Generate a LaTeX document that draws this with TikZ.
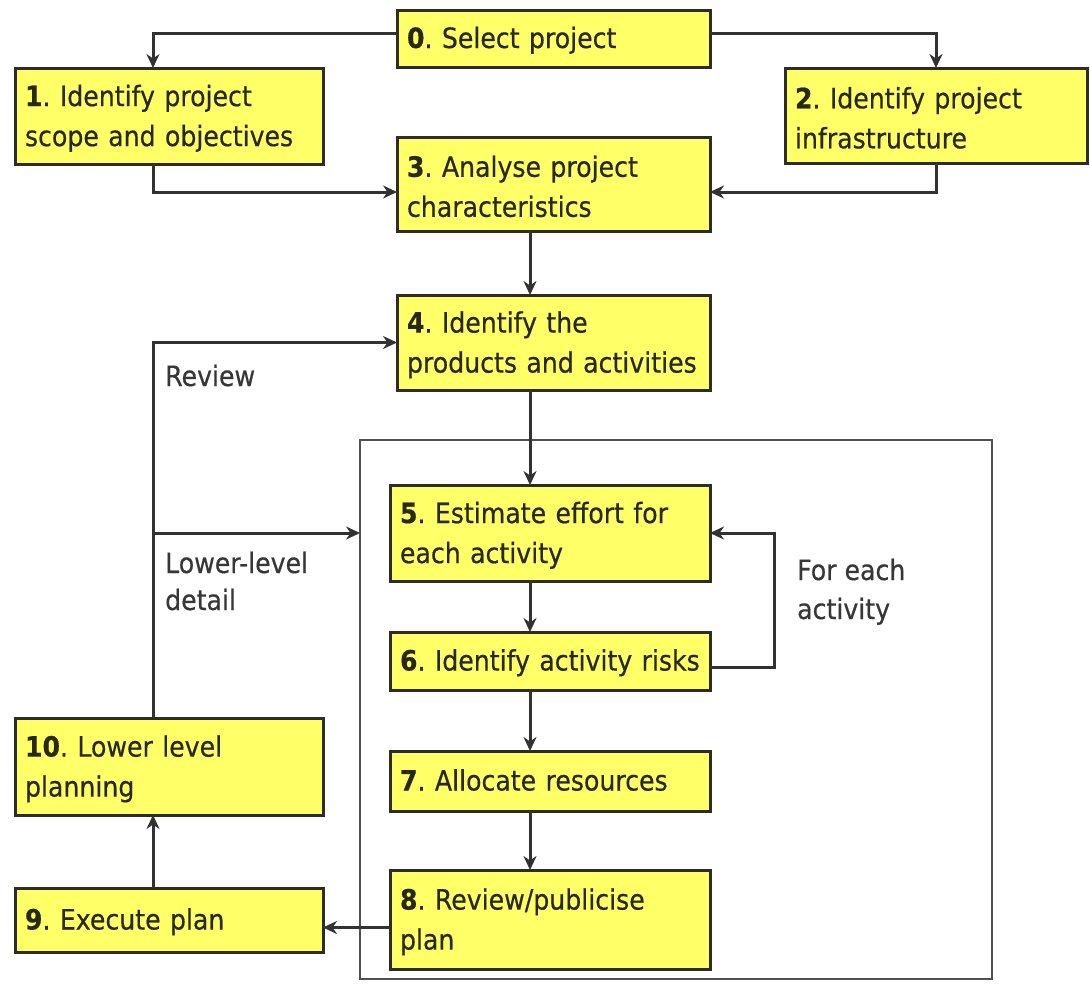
\documentclass[tikz,border=0pt]{standalone}
\usepackage{fontspec}
\setmainfont{DejaVu Sans}[FakeStretch=0.9, FakeBold=0.5]
\usetikzlibrary{arrows.meta}
\definecolor{boxfill}{RGB}{255,255,104}
\definecolor{edgec}{RGB}{45,45,38}
\definecolor{wirec}{RGB}{50,50,50}
\definecolor{framec}{RGB}{80,80,80}
\definecolor{lblc}{RGB}{55,55,55}
\definecolor{txtc}{RGB}{40,40,20}
\begin{document}
\frenchspacing
\begin{tikzpicture}[x=1pt,y=-1pt,
  stepbox/.style={draw=edgec, line width=3pt, fill=boxfill, anchor=north west,
    inner xsep=10pt, inner ysep=0pt, outer sep=0pt, align=left,
    font=\fontsize{28}{40}\selectfont\frenchspacing, text=txtc, text height=26pt},
  oneline/.style={text depth=7pt},
  arr/.style={draw=wirec, line width=3pt, -{Stealth[length=14pt,width=13pt]}},
  lbl/.style={anchor=base west, inner sep=0pt, font=\fontsize{28}{30}\selectfont, text=lblc}]
\useasboundingbox (0,0) rectangle (1090,983);
\fill[white] (0,0) rectangle (1090,983);
\coordinate (col) at (530,0);
\coordinate (lcol) at (153,0);
\coordinate (loopx) at (774,0);
% frame
\node[draw=framec, line width=2pt, anchor=north west, minimum width=632pt, minimum height=539pt, inner sep=0pt, outer sep=0pt] (frame) at (360,440) {};
% boxes
\node[stepbox, oneline, text width=293pt, minimum height=57pt] (b0) at (397,10) {\textbf{0}. Select project};
\node[stepbox, text width=288pt, minimum height=96pt] (b1) at (15,68) {\textbf{1}. Identify project\\scope and objectives};
\node[stepbox, text width=282pt, minimum height=95pt] (b2) at (785,68) {\textbf{2}. Identify project\\infrastructure};
\node[stepbox, text width=293pt, minimum height=94pt] (b3) at (397,137) {\textbf{3}. Analyse project\\characteristics};
\node[stepbox, text width=293pt, minimum height=95pt] (b4) at (397,295) {\textbf{4}. Identify the\\products and activities};
\node[stepbox, text width=300pt, minimum height=96pt] (b5) at (390,485) {\textbf{5}. Estimate effort for\\each activity};
\node[stepbox, oneline, text width=300pt, minimum height=58pt] (b6) at (390,632) {\mbox{\textbf{6}. Identify activity risks}};
\node[stepbox, oneline, text width=300pt, minimum height=60pt] (b7) at (390,751) {\textbf{7}. Allocate resources};
\node[stepbox, text width=300pt, minimum height=99pt] (b8) at (390,870) {\textbf{8}. Review/publicise\\plan};
\node[stepbox, text width=288pt, minimum height=97pt] (b10) at (15,718) {\textbf{10}. Lower level\\planning};
\node[stepbox, oneline, text width=288pt, minimum height=64pt] (b9) at (15,888) {\textbf{9}. Execute plan};
% labels
\node[lbl] (lrev) at (165,386) {Review};
\node[lbl] (llow) at (165,573) {Lower-level};
\node[lbl] (ldet) at (165,610) {detail};
\node[lbl] (lfor) at (797,580) {For each};
\node[lbl] (lact) at (797,619) {activity};
% connectors
\draw[arr] ([yshift=5pt]b0.west) -| (b1.north -| lcol);
\draw[arr] ([yshift=5pt]b0.east) -| (b2.north);
\draw[arr] (b1.south -| lcol) |- ([yshift=-8pt]b3.west);
\draw[arr] (b2.south) |- ([yshift=-8pt]b3.east);
\draw[arr] (b3.south -| col) -- (b4.north -| col);
\draw[arr] (b4.south -| col) -- (b5.north -| col);
\draw[arr] (b5.south -| col) -- (b6.north -| col);
\draw[arr] (b6.south -| col) -- (b7.north -| col);
\draw[arr] (b7.south -| col) -- (b8.north -| col);
\draw[arr] ([yshift=-6pt]b6.east) -- ([yshift=-6pt]b6.east -| loopx) -- (b5.east -| loopx) -- (b5.east);
\draw[arr] ([yshift=-8pt]b8.west) -- ([yshift=-8pt]b8.west -| b9.east);
\draw[arr] (b9.north -| lcol) -- (b10.south -| lcol);
\draw[arr] (b10.north -| lcol) |- (b4.west);
\draw[arr] (b5.west -| lcol) -- (b5.west -| frame.west);
\end{tikzpicture}
\end{document}
